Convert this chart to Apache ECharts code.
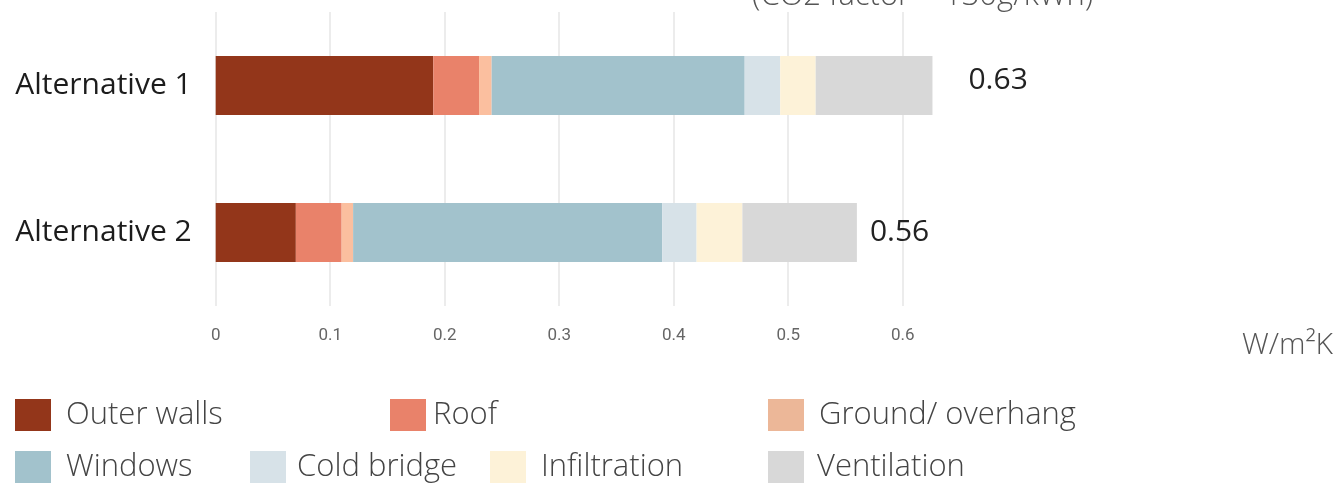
<!DOCTYPE html>
<html>
<head>
<meta charset="utf-8">
<script src="https://cdn.jsdelivr.net/npm/echarts@6/dist/echarts.min.js"></script>
<style>
  html, body { margin: 0; padding: 0; background: #ffffff; }
  #chart { width: 1344px; height: 487px; }
</style>
</head>
<body>
<div id="chart"></div>
<script>
// Heat loss breakdown per building alternative (W/m²K)
const categories = ['Alternative 1', 'Alternative 2'];
const componentNames = ['Outer walls', 'Roof', 'Ground/ overhang', 'Windows', 'Cold bridge', 'Infiltration', 'Ventilation'];
const outerWalls = [0.19, 0.07];
const roof = [0.04, 0.04];
const groundOverhang = [0.011, 0.01];
const windows = [0.221, 0.27];
const coldBridge = [0.031, 0.03];
const infiltration = [0.031, 0.04];
const ventilation = [0.102, 0.10];
const tickLabels = ['0', '0.1', '0.2', '0.3', '0.4', '0.5', '0.6'];
const unitLabel = 'W/m²K';
const noteText = '(CO2 factor = 130g/kWh)';

const seriesValues = [outerWalls, roof, groundOverhang, windows, coldBridge, infiltration, ventilation];
const colors = ['#93361a', '#e9826a', '#fbbf9f', '#a2c2cc', '#d7e2e8', '#fdf2d8', '#d8d8d8'];
const legendColors = ['#93361a', '#e9826a', '#ecb798', '#a2c2cc', '#d7e2e8', '#fdf2d8', '#d8d8d8'];

const totals = categories.map((_, i) => seriesValues.reduce((s, arr) => s + arr[i], 0));

const FONT = '"Open Sans", "Noto Sans", sans-serif';

// total label placement for each bar
const totalLabelStyle = [
  { distance: 36, offset: [0, -5] },
  { distance: 13, offset: [0, 0] }
];

const series = componentNames.map((name, si) => {
  const isLast = si === componentNames.length - 1;
  return {
    name,
    type: 'bar',
    stack: 'total',
    barWidth: 59,
    clip: false,
    itemStyle: { color: colors[si] },
    emphasis: { disabled: true },
    data: seriesValues[si].map((v, ci) => {
      const item = { value: v };
      if (isLast) {
        item.label = {
          show: true,
          position: 'right',
          distance: totalLabelStyle[ci].distance,
          offset: totalLabelStyle[ci].offset,
          formatter: () => totals[ci].toFixed(2),
          fontSize: 30,
          color: '#222222',
          fontFamily: FONT
        };
      }
      return item;
    })
  };
});

// legend layout: one legend block per entry
const legendSpots = [
  { left: 15, top: 399, pad: 10 },
  { left: 390, top: 399, pad: 2 },
  { left: 768, top: 399, pad: 10 },
  { left: 15, top: 451, pad: 10 },
  { left: 250, top: 451, pad: 6 },
  { left: 490, top: 451, pad: 10 },
  { left: 768, top: 451, pad: 8 }
];
const legends = componentNames.map((name, i) => ({
  data: [{ name, itemStyle: { color: legendColors[i] } }],
  left: legendSpots[i].left,
  top: legendSpots[i].top,
  padding: 0,
  icon: 'rect',
  itemWidth: 36,
  itemHeight: 32,
  selectedMode: false,
  textStyle: {
    fontSize: 31,
    fontWeight: 300,
    color: '#444444',
    fontFamily: FONT,
    padding: [13, 0, 0, legendSpots[i].pad]
  }
}));

const chart = echarts.init(document.getElementById('chart'), null, { renderer: 'canvas' });
chart.setOption({
  animation: false,
  backgroundColor: '#ffffff',
  grid: { left: 215.7, right: 441.3, top: 12, bottom: 181, containLabel: false },
  xAxis: {
    type: 'value',
    min: 0,
    max: 0.6,
    interval: 0.1,
    axisLine: { show: false },
    axisTick: { show: false },
    splitLine: { show: true, lineStyle: { color: '#e6e6e6', width: 1.5 } },
    axisLabel: {
      margin: 21,
      fontSize: 17,
      color: '#666666',
      fontFamily: 'Roboto, sans-serif',
      formatter: (v) => tickLabels[Math.round(v * 10)]
    }
  },
  yAxis: {
    type: 'category',
    inverse: true,
    data: categories,
    axisLine: { show: false },
    axisTick: { show: false },
    axisLabel: {
      margin: 24,
      fontSize: 30,
      color: '#1c1c1c',
      fontFamily: FONT
    }
  },
  legend: legends,
  graphic: [
    {
      type: 'text',
      left: 1242,
      top: 330,
      style: { text: unitLabel, font: '300 30px ' + FONT, fill: '#555555' }
    },
    {
      type: 'text',
      x: 752,
      y: -3.5,
      style: { text: noteText, font: '300 31px ' + FONT, fill: '#555555', textVerticalAlign: 'middle' }
    }
  ],
  series
});
</script>
</body>
</html>
